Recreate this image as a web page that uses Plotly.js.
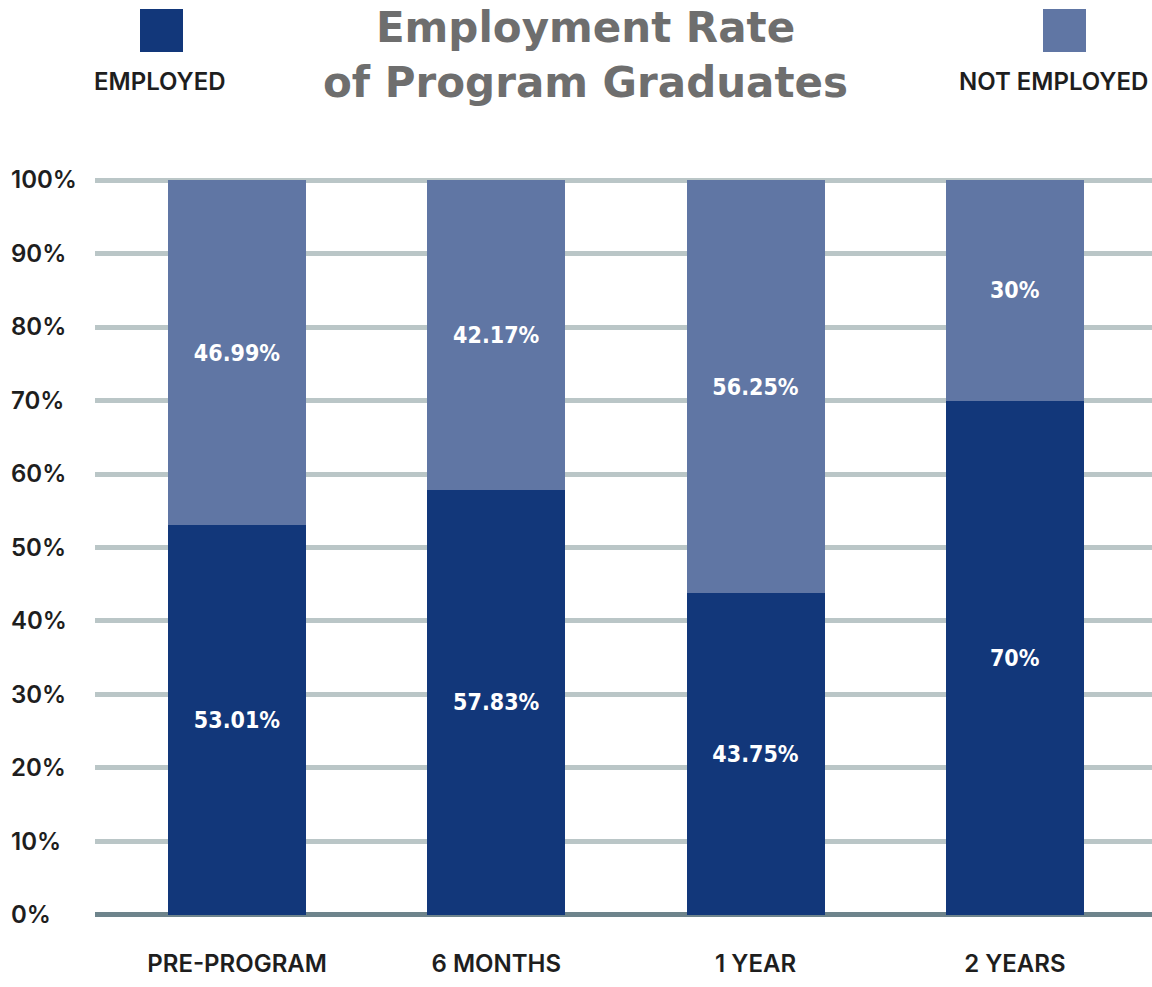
<!DOCTYPE html>
<html>
<head>
<meta charset="utf-8">
<script src="https://cdn.plot.ly/plotly-3.0.1.min.js"></script>
<style>html,body{margin:0;padding:0;background:#fff;}#chart{width:1152px;height:987px;}</style>
</head>
<body>
<div id="chart"></div>
<script>
const categories = ['PRE-PROGRAM', '6 MONTHS', '1 YEAR', '2 YEARS'];
const employed = [53.01, 57.83, 43.75, 70];
const notEmployed = [46.99, 42.17, 56.25, 30];
const yTickVals = [0, 10, 20, 30, 40, 50, 60, 70, 80, 90, 100];
const yTickText = ['0%', '10%', '20%', '30%', '40%', '50%', '60%', '70%', '80%', '90%', '100%'];
const seriesNames = ['EMPLOYED', 'NOT EMPLOYED'];
const titleLines = ['Employment Rate', 'of Program Graduates'];

const C_EMP = '#12377a';
const C_NOT = '#6076a4';
const W = 1152, H = 987;
const M = {l: 7, r: 0, t: 158, b: 50};
const PW = W - M.l - M.r, PH = H - M.t - M.b;
const px = x => (x - M.l) / PW;           // pixel -> paper x
const py = y => (H - M.b - y) / PH;        // pixel -> paper y

const labelFont = {family: 'DejaVu Sans Condensed, DejaVu Sans, sans-serif', size: 23, color: '#ffffff', weight: 700};
const tickFont = {family: 'Inter, Lato, sans-serif', size: 24, color: '#1e1e1e', weight: 600};

const traces = [
  {
    type: 'bar', name: seriesNames[0], x: categories, y: employed,
    marker: {color: C_EMP},
    text: employed.map(v => v + '%'), textposition: 'inside', insidetextanchor: 'middle',
    textangle: 0, constraintext: 'none', textfont: labelFont, hoverinfo: 'skip'
  },
  {
    type: 'bar', name: seriesNames[1], x: categories, y: notEmployed,
    marker: {color: C_NOT},
    text: notEmployed.map(v => v + '%'), textposition: 'inside', insidetextanchor: 'middle',
    textangle: 0, constraintext: 'none', textfont: labelFont, hoverinfo: 'skip'
  },
  {
    type: 'scatter', mode: 'markers', x: [categories[0]], y: [0], yaxis: 'y2',
    marker: {opacity: 0}, showlegend: false, hoverinfo: 'skip'
  }
];

const layout = {
  width: W, height: H,
  margin: M,
  paper_bgcolor: '#ffffff', plot_bgcolor: '#ffffff',
  barmode: 'stack', bargap: 0.467,
  showlegend: false,
  xaxis: {
    type: 'category', domain: [px(95), 1], range: [-0.548, 3.529],
    showline: false, showgrid: false, zeroline: false, ticks: '',
    ticklabelstandoff: 10,
    tickfont: tickFont, fixedrange: true
  },
  yaxis: {
    range: [-3, 103], tickvals: yTickVals, ticktext: yTickText,
    showticklabels: false, showgrid: true, gridcolor: '#bac6c7', gridwidth: 5,
    zeroline: true, zerolinecolor: '#6e848c', zerolinewidth: 5,
    showline: false, ticks: '', fixedrange: true
  },
  yaxis2: {
    overlaying: 'y', anchor: 'free', position: 0, side: 'left',
    range: [-3, 103], tickvals: yTickVals, ticktext: yTickText,
    ticklabelposition: 'inside', showgrid: false, zeroline: false, showline: false,
    ticks: '', tickfont: tickFont, fixedrange: true
  },
  shapes: [
    {type: 'rect', xref: 'paper', yref: 'paper', x0: px(140), x1: px(183), y0: py(52), y1: py(9), fillcolor: C_EMP, line: {width: 0}},
    {type: 'rect', xref: 'paper', yref: 'paper', x0: px(1043), x1: px(1086), y0: py(52), y1: py(9), fillcolor: C_NOT, line: {width: 0}}
  ],
  annotations: [
    {text: titleLines.join('<br>'), xref: 'paper', yref: 'paper', x: px(585), y: py(55), xanchor: 'center', yanchor: 'middle',
     showarrow: false, align: 'center',
     font: {family: 'DejaVu Sans, sans-serif', size: 42, color: '#6e6e6e', weight: 700}},
    {text: seriesNames[0], xref: 'paper', yref: 'paper', x: px(160), y: py(82), xanchor: 'center', yanchor: 'middle', showarrow: false,
     font: tickFont},
    {text: seriesNames[1], xref: 'paper', yref: 'paper', x: px(1150), y: py(82), xanchor: 'right', yanchor: 'middle', showarrow: false,
     font: tickFont}
  ]
};

Plotly.newPlot('chart', traces, layout, {displayModeBar: false, staticPlot: true});
</script>
</body>
</html>
